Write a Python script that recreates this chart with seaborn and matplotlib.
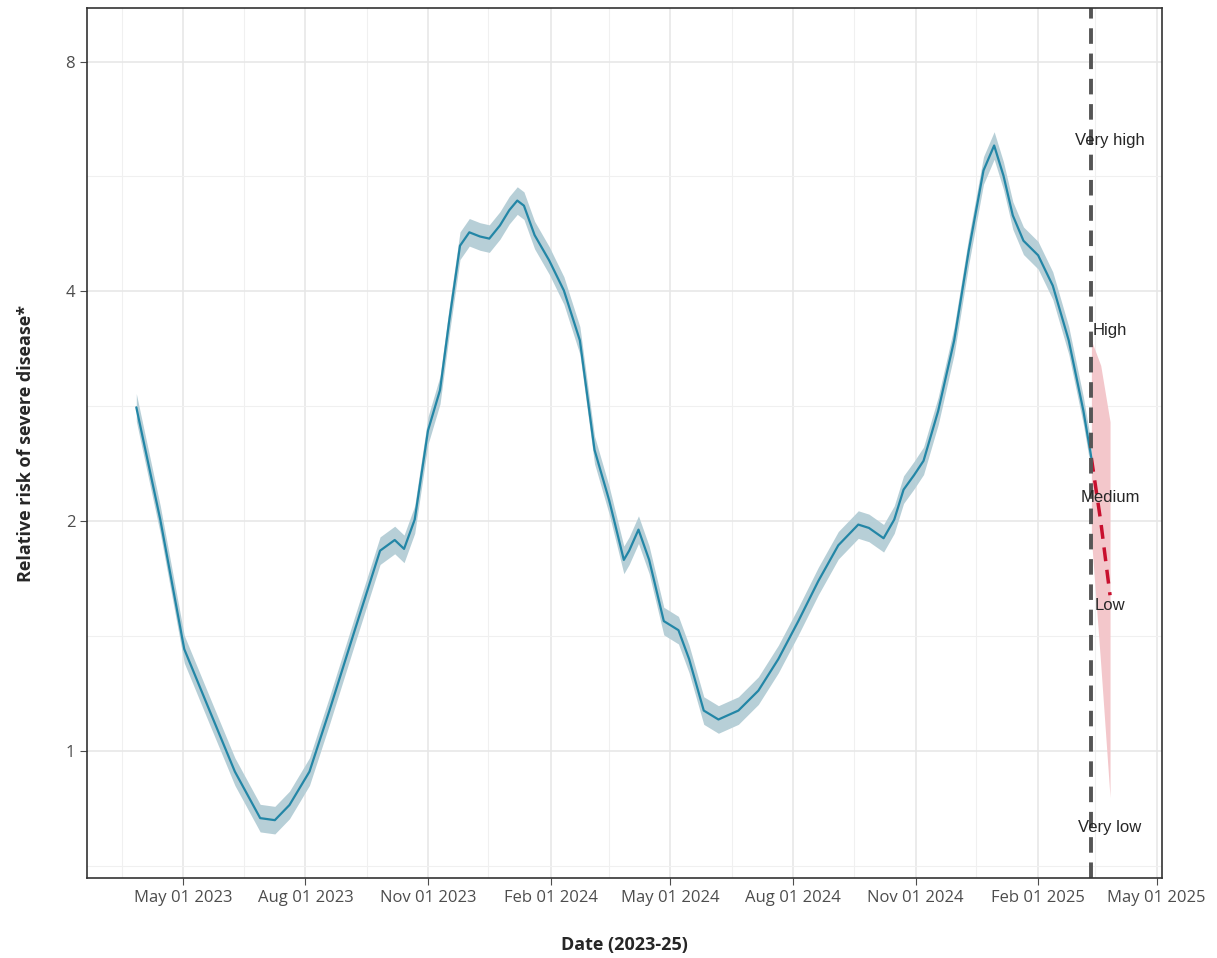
import pandas as pd
import numpy as np
import matplotlib.pyplot as plt
import matplotlib.dates as mdates
import seaborn as sns

dates = ['2023-03-27', '2023-04-14', '2023-05-02', '2023-05-21', '2023-06-09', '2023-06-28',
         '2023-07-09', '2023-07-20', '2023-08-04', '2023-08-19', '2023-09-07', '2023-09-26',
         '2023-10-07', '2023-10-14', '2023-10-22', '2023-11-01', '2023-11-10', '2023-11-17',
         '2023-11-25', '2023-12-02', '2023-12-10', '2023-12-17', '2023-12-25', '2024-01-01',
         '2024-01-07', '2024-01-12', '2024-01-20', '2024-01-31', '2024-02-11', '2024-02-23',
         '2024-03-05', '2024-03-16', '2024-03-27', '2024-03-31', '2024-04-07', '2024-04-15',
         '2024-04-26', '2024-05-07', '2024-05-15', '2024-05-26', '2024-06-06', '2024-06-21',
         '2024-07-06', '2024-07-21', '2024-08-05', '2024-08-20', '2024-09-04', '2024-09-19',
         '2024-09-27', '2024-10-08', '2024-10-16', '2024-10-23', '2024-10-31', '2024-11-07',
         '2024-11-18', '2024-11-30', '2024-12-11', '2024-12-22', '2024-12-30', '2025-01-06',
         '2025-01-13', '2025-01-21', '2025-02-01', '2025-02-12', '2025-02-24', '2025-03-07',
         '2025-03-13']
risk = [2.82, 2.01, 1.36, 1.13, 0.94, 0.817, 0.812, 0.85, 0.94, 1.13, 1.44, 1.83,
        1.89, 1.84, 2.01, 2.63, 2.97, 3.67, 4.59, 4.78, 4.72, 4.69, 4.88, 5.11,
        5.26, 5.18, 4.74, 4.39, 4.01, 3.45, 2.48, 2.13, 1.78, 1.83, 1.95, 1.78,
        1.48, 1.44, 1.32, 1.13, 1.10, 1.13, 1.20, 1.32, 1.48, 1.67, 1.86, 1.98,
        1.96, 1.90, 2.01, 2.20, 2.30, 2.40, 2.79, 3.45, 4.53, 5.76, 6.21, 5.67,
        5.03, 4.66, 4.46, 4.07, 3.45, 2.79, 2.42]
band_log2 = 0.06

fc_dates = ['2025-03-13', '2025-03-20', '2025-03-27']
fc_risk = [2.42, 2.0, 1.6]
fc_lo = [1.9, 1.3, 0.87]
fc_hi = [3.45, 3.2, 2.7]

nowcast_date = '2025-03-13'
level_names = ['Very high', 'High', 'Medium', 'Low', 'Very low']
level_y = [6.3, 3.56, 2.15, 1.55, 0.795]
level_x = '2025-03-27'

df = pd.DataFrame({'date': pd.to_datetime(dates), 'risk': risk})
df['lo'] = df['risk'] * 2 ** -band_log2
df['hi'] = df['risk'] * 2 ** band_log2
fc = pd.DataFrame({'date': pd.to_datetime(fc_dates), 'risk': fc_risk, 'lo': fc_lo, 'hi': fc_hi})

sns.set_style('white')
plt.rcParams['font.family'] = ['Open Sans', 'DejaVu Sans']

fig = plt.figure(figsize=(12.17, 9.58), dpi=100)
ax = fig.add_axes([0.0715, 0.0835, 0.8833, 0.9081])

ax.fill_between(df['date'], df['lo'], df['hi'], color='#b7cfd7', lw=0)
sns.lineplot(data=df, x='date', y='risk', ax=ax, color='#2386a6', lw=1.6)
ax.fill_between(fc['date'], fc['lo'], fc['hi'], color='#f3c7cb', lw=0)
sns.lineplot(data=fc, x='date', y='risk', ax=ax, color='#c8102e', lw=2.5, linestyle=(0, (4, 2.5)))
ax.axvline(pd.Timestamp(nowcast_date), color='#555555', lw=2.8, linestyle=(0, (4, 2.5)))

for name, y in zip(level_names, level_y):
    ax.text(pd.Timestamp(level_x), y, name, ha='center', va='center', fontsize=12,
            family=['Liberation Sans', 'DejaVu Sans'])

ax.set_yscale('log', base=2)
ax.set_ylim(0.682, 9.4)
ax.set_yticks([1, 2, 4, 8])
ax.set_yticklabels(['1', '2', '4', '8'])
ax.set_yticks([0.707, 1.414, 2.828, 5.657], minor=True)
ax.yaxis.set_minor_formatter(plt.NullFormatter())
ax.set_xlim(pd.Timestamp('2023-02-18'), pd.Timestamp('2025-05-05'))
ax.xaxis.set_major_locator(mdates.MonthLocator(bymonth=[2, 5, 8, 11]))
ax.xaxis.set_major_formatter(mdates.DateFormatter('%b %d %Y'))
ax.xaxis.set_minor_locator(mdates.MonthLocator(bymonth=[3, 6, 9, 12], bymonthday=16))
ax.grid(True, which='major', color='#e6e6e6', lw=1.1)
ax.grid(True, which='minor', color='#f0f0f0', lw=0.8)
ax.tick_params(axis='both', which='major', labelsize=12, colors='#4d4d4d', length=5, left=True, bottom=True)
ax.tick_params(axis='both', which='minor', length=0)
for s in ax.spines.values():
    s.set_color('#333333')
    s.set_linewidth(1.2)

ax.set_xlabel('Date (2023-25)', fontsize=13, fontweight='bold', labelpad=22)
ax.set_ylabel('Relative risk of severe disease*', fontsize=13, fontweight='bold', labelpad=22)

plt.savefig('out.png', dpi=100)
plt.close()
